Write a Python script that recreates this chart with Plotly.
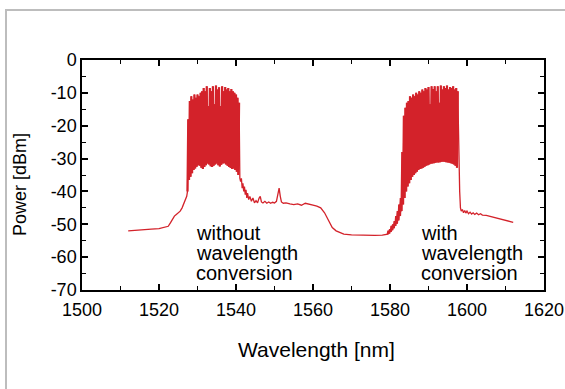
import plotly.graph_objects as go

# ---------------- data ----------------
pre_a_wl = [1512.0, 1514.0, 1516.0, 1518.0, 1520.0, 1521.5, 1522.4, 1523.0, 1523.5,
            1524.0, 1524.5, 1525.0, 1525.5, 1526.0, 1526.4, 1526.8, 1527.2]
pre_a_dbm = [-52.0, -51.9, -51.7, -51.5, -51.3, -51.0, -50.6, -49.5, -48.5,
             -47.5, -47.0, -46.5, -46.0, -45.0, -44.0, -43.0, -41.5]

band_a_wl = [1527.6, 1528.0, 1528.4, 1528.8, 1529.2, 1529.6, 1530.0, 1530.4, 1530.8, 1531.2,
             1531.6, 1532.0, 1532.4, 1532.8, 1533.2, 1533.6, 1534.0, 1534.4, 1534.8, 1535.2,
             1535.6, 1536.0, 1536.4, 1536.8, 1537.2, 1537.6, 1538.0, 1538.4, 1538.8, 1539.2,
             1539.6, 1540.0, 1540.4, 1540.8]
band_a_peak = [-18.0, -12.5, -11.0, -12.0, -10.5, -11.5, -10.5, -11.0, -10.0, -9.5,
               -8.5, -9.5, -8.0, -14.0, -8.5, -9.5, -8.0, -13.5, -7.8, -9.0,
               -8.3, -14.0, -8.0, -9.5, -8.2, -9.0, -8.5, -9.5, -8.8, -9.5,
               -10.0, -10.5, -11.5, -13.0]
band_a_floor = [-40.0, -36.5, -35.5, -34.5, -33.5, -33.0, -32.5, -32.0, -32.2, -32.8,
                -33.2, -32.6, -32.0, -31.5, -31.8, -32.3, -32.6, -32.2, -31.8, -31.5,
                -32.0, -32.4, -31.9, -31.5, -31.4, -31.8, -32.2, -32.6, -32.9, -33.2,
                -33.0, -33.5, -34.0, -35.0]

mid_wl = [1541.0, 1541.2, 1541.4, 1541.6, 1541.8, 1542.0, 1542.2, 1542.4, 1542.6, 1542.8,
          1543.0, 1543.3, 1543.6, 1544.0, 1544.4, 1544.8, 1545.2, 1545.6, 1546.0, 1546.3,
          1546.6, 1547.0, 1547.5, 1548.0, 1548.5, 1549.0, 1549.5, 1550.0, 1550.5, 1550.9,
          1551.2, 1551.5, 1551.8, 1552.3, 1553.0, 1554.0, 1555.0, 1556.0, 1557.0, 1558.0,
          1559.0, 1560.0, 1561.0, 1562.0, 1563.0, 1564.0, 1565.0, 1566.0, 1567.0, 1568.0,
          1570.0, 1572.0, 1574.0, 1576.0, 1578.0, 1579.0]
mid_dbm = [-36.0, -37.0, -36.0, -39.0, -37.5, -40.0, -38.5, -41.0, -39.5, -42.0,
           -40.5, -42.5, -41.5, -43.0, -42.0, -43.5, -42.8, -43.5, -42.0, -41.5,
           -43.2, -43.5, -43.0, -43.6, -43.2, -43.6, -43.3, -43.5, -43.0, -41.0,
           -39.0, -41.5, -43.2, -43.6, -43.5, -43.8, -44.0, -43.8, -44.2, -43.6,
           -44.0, -44.2, -44.5, -45.0, -46.5, -49.0, -51.0, -52.0, -52.6, -53.0,
           -53.2, -53.3, -53.4, -53.4, -53.3, -53.0]

band_b_wl = [1579.6, 1580.0, 1580.4, 1580.8, 1581.2, 1581.6, 1582.0, 1582.4, 1582.8,
             1583.2, 1583.6, 1584.0, 1584.4, 1584.8, 1585.2, 1585.6, 1586.0, 1586.4, 1586.8,
             1587.2, 1587.6, 1588.0, 1588.4, 1588.8, 1589.2, 1589.6, 1590.0, 1590.4, 1590.8,
             1591.2, 1591.6, 1592.0, 1592.4, 1592.8, 1593.2, 1593.6, 1594.0, 1594.4, 1594.8,
             1595.2, 1595.6, 1596.0, 1596.4, 1596.8, 1597.2, 1597.6]
band_b_peak = [-52.0, -51.5, -50.5, -50.0, -49.0, -47.5, -46.0, -44.0, -42.0,
               -28.0, -17.0, -14.5, -13.0, -12.5, -11.0, -11.5, -10.5, -11.0, -10.0,
               -10.5, -9.5, -10.0, -9.0, -9.5, -8.5, -9.0, -8.2, -13.5, -8.0,
               -8.8, -8.0, -9.5, -8.0, -13.0, -7.8, -9.0, -8.0, -8.5, -7.8,
               -9.0, -8.2, -8.5, -8.0, -9.0, -8.5, -9.5]
band_b_floor = [-53.0, -52.8, -52.3, -51.8, -51.2, -50.5, -49.8, -48.8, -47.5,
                -46.0, -44.0, -42.0, -40.0, -38.5, -37.5, -36.5, -35.5, -35.0, -34.5,
                -34.0, -33.5, -33.2, -33.0, -32.8, -32.5, -32.2, -32.0, -31.8, -31.6,
                -31.5, -31.4, -31.3, -31.2, -31.2, -31.1, -31.0, -31.0, -31.0, -31.1,
                -31.2, -31.3, -31.4, -31.6, -31.8, -32.2, -32.8]

post_b_wl = [1597.9, 1598.1, 1598.3, 1598.5, 1598.8, 1599.1, 1599.4, 1599.7, 1600.0, 1600.4,
             1600.8, 1601.2, 1601.6, 1602.0, 1602.5, 1603.0, 1603.5, 1604.0, 1605.0, 1606.0,
             1607.0, 1608.0, 1609.0, 1610.0, 1611.0, 1612.0]
post_b_dbm = [-33.0, -40.0, -45.0, -46.0, -45.5, -46.5, -45.8, -46.6, -46.0, -46.8,
              -46.3, -46.9, -46.5, -47.0, -46.6, -47.1, -46.8, -47.2, -47.3, -47.6,
              -47.9, -48.2, -48.5, -48.8, -49.1, -49.4]

x_ticks = [1500, 1520, 1540, 1560, 1580, 1600, 1620]
x_tick_text = ["1500", "1520", "1540", "1560", "1580", "1600", "1620"]
y_ticks = [0, -10, -20, -30, -40, -50, -60, -70]
y_tick_text = ["0", "-10", "-20", "-30", "-40", "-50", "-60", "-70"]

label_left = ["without", "wavelength", "conversion"]
label_right = ["with", "wavelength", "conversion"]


def band(wls, peaks, floors, half=0.2):
    xs, ys = [], []
    for w, p, f in zip(wls, peaks, floors):
        xs += [w - half, w]
        ys += [f, p]
    return xs, ys

ax, ay = band(band_a_wl, band_a_peak, band_a_floor)
bx, by = band(band_b_wl, band_b_peak, band_b_floor)
xs = pre_a_wl + ax + mid_wl + bx + post_b_wl
ys = pre_a_dbm + ay + mid_dbm + by + post_b_dbm

RED = "#d3222a"
GREY = "#bdbdbd"
FONT = "Liberation Sans, Arial, sans-serif"

fig = go.Figure()
fig.add_trace(go.Scatter(x=xs, y=ys, mode="lines",
                         line=dict(color=RED, width=1.3), showlegend=False,
                         hoverinfo="skip"))
fig.add_trace(go.Scatter(x=ax, y=ay, mode="lines",
                         line=dict(color=RED, width=2.2), showlegend=False,
                         hoverinfo="skip"))
fig.add_trace(go.Scatter(x=bx, y=by, mode="lines",
                         line=dict(color=RED, width=2.2), showlegend=False,
                         hoverinfo="skip"))
# empty trace that only registers the frame subplot (x2/y2)
fig.add_trace(go.Scatter(x=[], y=[], xaxis="x2", yaxis="y2", showlegend=False,
                         hoverinfo="skip"))

# whole figure is the "paper"; the axes occupy a domain inside it
FW, FH = 565, 389
L, R, T, B = 82, 544, 60, 290

def xp(px):
    return px / FW

def yp(py):
    return 1 - py / FH

axis_common = dict(showgrid=False, zeroline=False, showline=True, linecolor="black",
                   linewidth=1.5, mirror="allticks", ticks="inside", ticklen=6,
                   tickwidth=1.5, tickcolor="black",
                   tickfont=dict(family=FONT, size=18, color="black"))

frame_axis = dict(range=[0, 1], showline=True, linecolor=GREY, linewidth=2,
                  showticklabels=False, ticks="", showgrid=False, zeroline=False,
                  fixedrange=True, mirror=False)

fig.update_layout(
    width=FW, height=FH,
    margin=dict(l=0, r=0, t=0, b=0, autoexpand=False),
    paper_bgcolor="white", plot_bgcolor="rgba(0,0,0,0)",
    xaxis=dict(range=[1500, 1620], domain=[xp(L), xp(R)], anchor="y",
               tickvals=x_ticks, ticktext=x_tick_text, ticklabelstandoff=3,
               minor=dict(dtick=10, tick0=1500, ticks="inside", ticklen=4,
                          tickwidth=1, tickcolor="black", showgrid=False),
               **axis_common),
    yaxis=dict(range=[-70, 0], domain=[yp(B), yp(T)], anchor="x",
               tickvals=y_ticks, ticktext=y_tick_text,
               minor=dict(dtick=5, tick0=0, ticks="inside", ticklen=4,
                          tickwidth=1, tickcolor="black", showgrid=False),
               **axis_common),
    # light grey page frame: top and left edges
    xaxis2=dict(domain=[xp(7), 1.0], anchor="y2", side="top", **frame_axis),
    yaxis2=dict(domain=[0.0, yp(11)], anchor="x2", side="left", **frame_axis),
)

annotations = []
annotations.append(dict(text="Wavelength [nm]", xref="paper", yref="paper",
                        x=xp(316), y=yp(349), xanchor="center", yanchor="middle",
                        showarrow=False, font=dict(family=FONT, size=21, color="black")))
annotations.append(dict(text="Power [dBm]", xref="paper", yref="paper",
                        x=xp(20), y=yp(185), xanchor="center", yanchor="middle",
                        textangle=-90, showarrow=False,
                        font=dict(family=FONT, size=18, color="black")))
line_px = [233, 253, 273]
for i, t in enumerate(label_left):
    annotations.append(dict(text=t, xref="paper", yref="paper", x=xp(194), y=yp(line_px[i]),
                            xanchor="left", yanchor="middle", showarrow=False,
                            font=dict(family=FONT, size=20, color="black")))
for i, t in enumerate(label_right):
    annotations.append(dict(text=t, xref="paper", yref="paper", x=xp(419), y=yp(line_px[i]),
                            xanchor="left", yanchor="middle", showarrow=False,
                            font=dict(family=FONT, size=20, color="black")))
fig.update_layout(annotations=annotations)

fig.write_html("out.html")
